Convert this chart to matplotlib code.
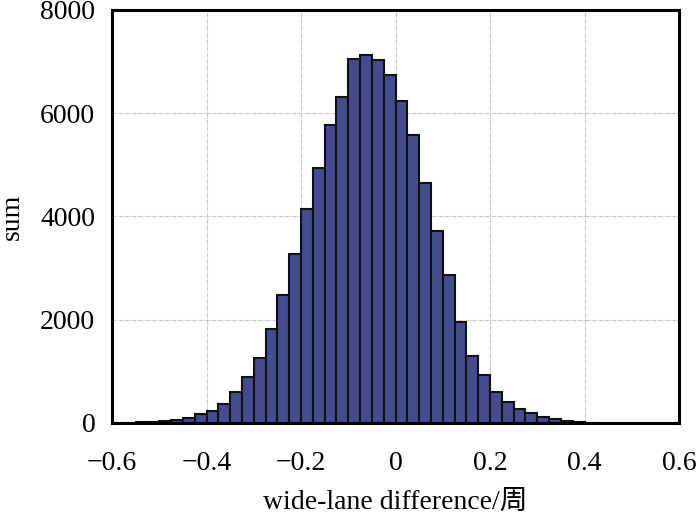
import numpy as np
import matplotlib
matplotlib.use("Agg")
import matplotlib.pyplot as plt

# histogram of wide-lane differences, bin width 0.025 cycles
bin_width = 0.025
bin_start = [-0.575, -0.55, -0.525, -0.5, -0.475, -0.45, -0.425, -0.4, -0.375, -0.35,
             -0.325, -0.3, -0.275, -0.25, -0.225, -0.2, -0.175, -0.15, -0.125, -0.1,
             -0.075, -0.05, -0.025, 0.0, 0.025, 0.05, 0.075, 0.1, 0.125, 0.15,
             0.175, 0.2, 0.225, 0.25, 0.275, 0.3, 0.325, 0.35, 0.375, 0.4]
counts = [5, 13, 20, 39, 58, 103, 170, 240, 360, 590,
          890, 1258, 1825, 2477, 3277, 4147, 4935, 5760, 6308, 7051,
          7122, 7032, 6735, 6243, 5572, 4637, 3721, 2870, 1947, 1303,
          935, 606, 399, 277, 200, 120, 67, 42, 22, 6]

x_ticks = [-0.6, -0.4, -0.2, 0, 0.2, 0.4, 0.6]
x_tick_labels = ["\u22120.6", "\u22120.4", "\u22120.2", "0", "0.2", "0.4", "0.6"]
y_ticks = [0, 2000, 4000, 6000, 8000]

plt.rcParams['font.family'] = ['Liberation Serif', 'Noto Sans CJK SC']

fig = plt.figure(figsize=(7, 5.17), dpi=100)
ax = fig.add_axes([0.16, 0.182, 0.81, 0.799])

ax.bar(bin_start, counts, width=bin_width, align='edge',
       color='#434c8e', edgecolor='#111111', linewidth=1.5, zorder=3)

ax.set_xlim(-0.6, 0.6)
ax.set_ylim(0, 8000)
ax.set_xticks(x_ticks)
ax.set_xticklabels(x_tick_labels)
ax.set_yticks(y_ticks)
ax.tick_params(length=0, labelsize=20)
ax.tick_params(axis='x', pad=20)
ax.tick_params(axis='y', pad=12)

ax.grid(True, color='#c9bec4', linestyle=(0, (3, 1, 1, 1)), linewidth=0.8, zorder=0)
for s in ax.spines.values():
    s.set_linewidth(2.2)
    s.set_color('black')
    s.set_zorder(4)

ax.set_xlabel("wide-lane difference/周", fontsize=20, labelpad=10)
ax.set_ylabel("sum", fontsize=20, labelpad=11)

fig.savefig("out.png", dpi=100)
